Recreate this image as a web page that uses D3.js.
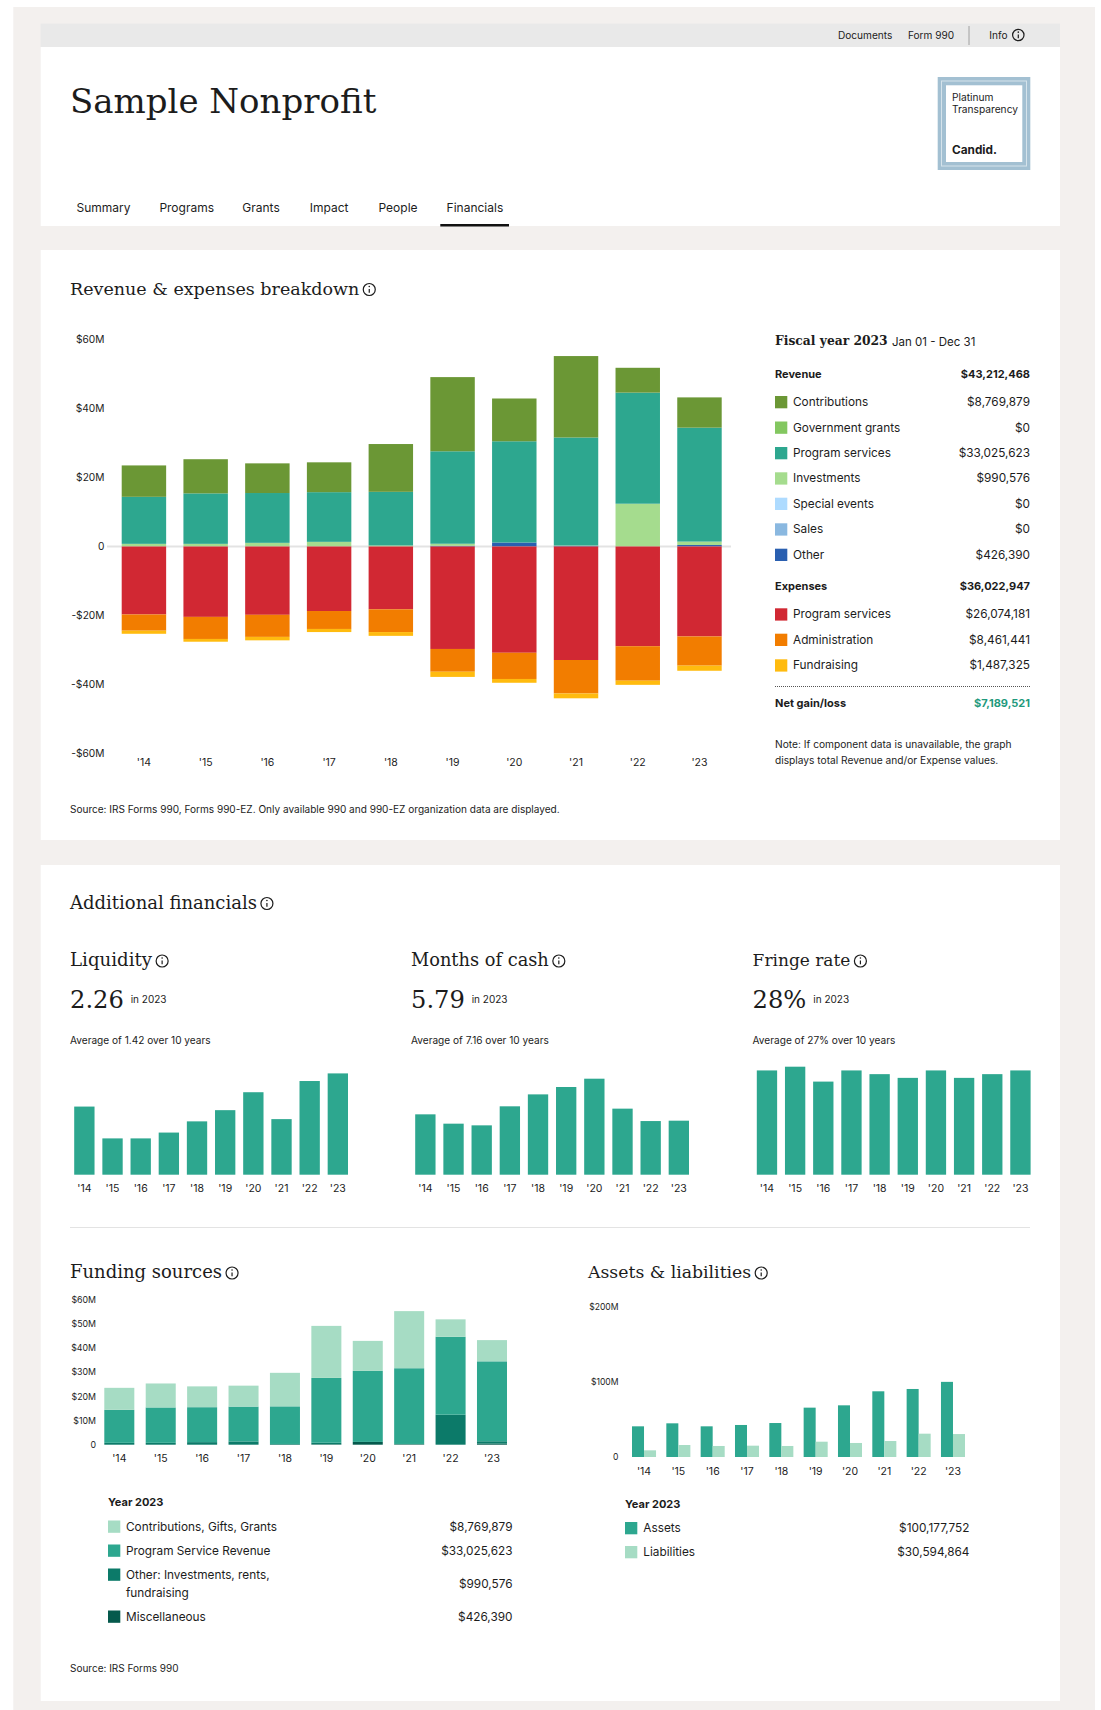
<!DOCTYPE html>
<html>
<head>
<meta charset="utf-8">
<title>Sample Nonprofit</title>
<script src="https://cdn.jsdelivr.net/npm/d3@7"></script>
<style>
  html, body { margin: 0; padding: 0; background: #fff; }
  svg { display: block; }
</style>
</head>
<body>
<div id="page"></div>
<script>
const years = ["'14", "'15", "'16", "'17", "'18", "'19", "'20", "'21", "'22", "'23"];

// revenue components, $M
const contributions = [9.1, 9.9, 8.6, 8.65, 13.85, 21.5, 12.4, 23.6, 7.2, 8.77];
const programRevenue = [13.63, 14.63, 14.44, 14.4, 15.55, 26.8, 29.35, 31.3, 32.2, 33.03];
const investments = [0.77, 0.77, 1.06, 1.35, 0.3, 0.6, 0, 0.1, 12.4, 0.99];
const otherRevenue = [0, 0, 0, 0, 0, 0.2, 1.15, 0.2, 0, 0.43];

// expense components, $M
const programExpense = [19.7, 20.4, 19.8, 18.7, 18.2, 29.7, 30.8, 32.9, 28.9, 26.07];
const adminExpense = [4.7, 6.4, 6.4, 5.2, 6.6, 6.6, 7.6, 9.7, 10, 8.46];
const fundraising = [0.9, 0.8, 1, 0.9, 1.1, 1.5, 1.1, 1.4, 1.2, 1.49];

const liquidity = [1.52, 0.81, 0.81, 0.94, 1.19, 1.44, 1.84, 1.24, 2.09, 2.26];
const monthsOfCash = [6.47, 5.47, 5.29, 7.33, 8.61, 9.4, 10.29, 7.08, 5.75, 5.79];
const fringeRate = [28, 29, 25, 28, 27, 26, 28, 26, 27, 28];

const assets = [40.9, 44.9, 40.9, 42.7, 45.3, 65.8, 68.9, 87.6, 90.7, 100.18];
const liabilities = [8.9, 16, 14.7, 15.1, 14.7, 20.4, 18.7, 21.3, 31.1, 30.59];

const tabs = ['Summary', 'Programs', 'Grants', 'Impact', 'People', 'Financials'];
const revenueLegend = [
    ['Contributions', '$8,769,879', '#6b9735'],
    ['Government grants', '$0', '#83c760'],
    ['Program services', '$33,025,623', '#2da78f'],
    ['Investments', '$990,576', '#a5dc8e'],
    ['Special events', '$0', '#aedbff'],
    ['Sales', '$0', '#8ab8e0'],
    ['Other', '$426,390', '#2a5fb0']
];
const expenseLegend = [
    ['Program services', '$26,074,181', '#d12833'],
    ['Administration', '$8,461,441', '#f27d00'],
    ['Fundraising', '$1,487,325', '#ffbb0f']
];

const SANS = 'Inter, Roboto, sans-serif';
const SERIF = '"DejaVu Serif", serif';
const INK = '#1c1c1c';
const TEAL = '#2da78f';
const TEAL_LIGHT = '#a6dcc4';
const TEAL_DARK = '#0c7a69';
const TEAL_DARKEST = '#05594c';

const svg = d3.select('#page').append('svg')
    .attr('width', 1101)
    .attr('height', 1710);

function rect(x, y, w, h, fill) {
    return svg.append('rect')
        .attr('x', x).attr('y', y)
        .attr('width', w).attr('height', h)
        .attr('fill', fill);
}

function label(x, y, str, opts = {}) {
    return svg.append('text')
        .attr('x', x).attr('y', y)
        .attr('dy', '.35em')
        .attr('text-anchor', opts.anchor || 'start')
        .attr('font-family', opts.family || SANS)
        .attr('font-size', opts.size || 11.8)
        .attr('font-weight', opts.weight || 400)
        .attr('fill', opts.fill || INK)
        .text(str);
}

function infoIcon(cx, cy, r) {
    svg.append('circle').attr('cx', cx).attr('cy', cy).attr('r', r)
        .attr('fill', 'none').attr('stroke', INK).attr('stroke-width', 1.2);
    svg.append('line').attr('x1', cx).attr('x2', cx)
        .attr('y1', cy - 0.5).attr('y2', cy + r * 0.55)
        .attr('stroke', INK).attr('stroke-width', 1.2);
    svg.append('circle').attr('cx', cx).attr('cy', cy - r * 0.5).attr('r', 0.8).attr('fill', INK);
}

function heading(x, y, str, size) {
    const t = label(x, y, str, { family: SERIF, size });
    const w = t.node().getComputedTextLength();
    infoIcon(x + w + 10, y + 1, 6);
}

function drawFrame() {
    rect(13.3, 7, 1081.7, 1703, '#f3f0ee');
    rect(40.7, 23.7, 1019.3, 23.3, '#e9e9e9');
    rect(40.7, 47, 1019.3, 179, '#fff');
    rect(40.7, 250, 1019.3, 590, '#fff');
    rect(40.7, 865, 1019.3, 836, '#fff');
}

function drawHeader() {
    label(838, 35.5, 'Documents', { size: 10.1 });
    label(908, 35.5, 'Form 990', { size: 10.1 });
    svg.append('line').attr('x1', 969).attr('x2', 969).attr('y1', 26).attr('y2', 45)
        .attr('stroke', '#a0a0a0');
    label(989.3, 35.5, 'Info', { size: 10.1 });
    infoIcon(1018.3, 35, 5.7);

    label(70, 101, 'Sample Nonprofit', { family: SERIF, size: 34 });

    rect(937.7, 77, 92.6, 93, '#a3c0d2');
    rect(941, 80.5, 86, 86, '#d5e3eb');
    rect(942, 81.5, 84, 84, '#a3c0d2');
    rect(946, 85.3, 76.3, 76.7, '#fff');
    label(952, 97.5, 'Platinum', { size: 10.2 });
    label(952, 109.5, 'Transparency', { size: 10.2 });
    label(952, 150, 'Candid.', { size: 11.8, weight: 700 });

    const tabX = [76.5, 159.4, 242.3, 309.7, 378.5, 446.6];
    tabs.forEach((tab, i) => label(tabX[i], 207.5, tab, { size: 12 }));
    rect(440.3, 224, 68.7, 2.5, '#111');
}

function moneyTick(d) {
    if (d === 0) return '0';
    return `${d < 0 ? '-' : ''}$${Math.abs(d)}M`;
}

function styleAxis(g, size) {
    g.select('.domain').remove();
    g.selectAll('.tick line').remove();
    g.selectAll('text')
        .attr('font-family', SANS)
        .attr('font-size', size)
        .attr('fill', INK);
}

function yearAxis(x, y, offset, size) {
    const g = svg.append('g')
        .attr('transform', `translate(0,${y})`)
        .call(d3.axisBottom(x).tickSize(0));
    styleAxis(g, size);
    g.selectAll('text').attr('y', offset).attr('dy', '.35em');
}

function moneyAxis(scale, xPos, ticks, size) {
    const g = svg.append('g')
        .attr('transform', `translate(${xPos},0)`)
        .call(d3.axisLeft(scale).tickValues(ticks).tickSize(0).tickPadding(0).tickFormat(moneyTick));
    styleAxis(g, size);
}

// stacks the given series away from the baseline and draws one rect per segment
function stackedBars(x, y, series) {
    series.forEach(s => {
        svg.append('g').selectAll('rect')
            .data(years)
            .join('rect')
            .attr('x', d => x(d))
            .attr('width', x.bandwidth())
            .attr('y', (d, i) => Math.min(y(s.base[i]), y(s.base[i] + s.values[i])))
            .attr('height', (d, i) => Math.abs(y(s.base[i]) - y(s.base[i] + s.values[i])))
            .attr('fill', s.color);
    });
}

function withBases(list, sign = 1) {
    const running = years.map(() => 0);
    return list.map(([values, color]) => {
        const base = running.slice();
        values.forEach((v, i) => { running[i] += sign * v; });
        return { values: values.map(v => sign * v), base, color };
    });
}

function drawBreakdown() {
    heading(70, 288.5, 'Revenue & expenses breakdown', 17.5);

    const x = d3.scaleBand().domain(years).range([121.7, 721.7]).paddingInner(0.28);
    const y = d3.scaleLinear().domain([-60, 60]).range([753.5, 339.5]);

    svg.append('line').attr('x1', 107).attr('x2', 731).attr('y1', y(0)).attr('y2', y(0))
        .attr('stroke', '#e3e3e3').attr('stroke-width', 2);

    stackedBars(x, y, withBases([
        [otherRevenue, '#2a5fb0'],
        [investments, '#a5dc8e'],
        [programRevenue, '#2da78f'],
        [contributions, '#6b9735']
    ]));
    stackedBars(x, y, withBases([
        [programExpense, '#d12833'],
        [adminExpense, '#f27d00'],
        [fundraising, '#ffbb0f']
    ], -1));

    moneyAxis(y, 104.5, [-60, -40, -20, 0, 20, 40, 60], 10.2);
    yearAxis(x, 753.5, 8.5, 10.5);

    label(70, 809, 'Source: IRS Forms 990, Forms 990-EZ. Only available 990 and 990-EZ organization data are displayed.', { size: 10.05 });
}

function legendRow(x, y, xText, xValue, [name, value, color], size = 11.8) {
    rect(x, y - 6, 12.3, 12.3, color);
    label(xText, y, name, { size });
    label(xValue, y, value, { size, anchor: 'end' });
}

function drawFiscalPanel() {
    label(775, 341, 'Fiscal year 2023', { family: SERIF, size: 12.3, weight: 700 });
    label(892, 342, 'Jan 01 - Dec 31', { size: 11.5 });

    label(775, 374, 'Revenue', { weight: 700, size: 11 });
    label(1030, 374, '$43,212,468', { weight: 700, size: 11, anchor: 'end' });
    const revenueY = [402, 427.5, 453, 478.3, 503.7, 529.3, 554.7];
    revenueLegend.forEach((row, i) => legendRow(775, revenueY[i], 793, 1030, row));

    label(775, 586.5, 'Expenses', { weight: 700, size: 11 });
    label(1030, 586.5, '$36,022,947', { weight: 700, size: 11, anchor: 'end' });
    const expenseY = [614.3, 639.7, 665.3];
    expenseLegend.forEach((row, i) => legendRow(775, expenseY[i], 793, 1030, row));

    svg.append('line').attr('x1', 775).attr('x2', 1030).attr('y1', 686.5).attr('y2', 686.5)
        .attr('stroke', '#555').attr('stroke-dasharray', '1 1');

    label(775, 703.5, 'Net gain/loss', { weight: 700, size: 11 });
    label(1030, 703.5, '$7,189,521', { weight: 700, size: 11, anchor: 'end', fill: '#1f9a7d' });

    label(775, 744.5, 'Note: If component data is unavailable, the graph', { size: 10.2 });
    label(775, 760, 'displays total Revenue and/or Expense values.', { size: 10.2 });
}

function smallChart(left, title, titleSize, big, average, values, barHeight) {
    const textX = left - 4.2;
    heading(textX, 960, title, titleSize);
    label(textX, 1000, big, { family: SERIF, size: 24.2 });
    label(textX + 60.7, 999, 'in 2023', { size: 10 });
    label(textX, 1040, average, { size: 10.1 });

    const x = d3.scaleBand().domain(years).range([left, left + 273.8]).paddingInner(0.278);
    const y = d3.scaleLinear().domain([0, d3.max(values)]).range([1174.7, 1174.7 - barHeight]);
    svg.append('g').selectAll('rect')
        .data(values)
        .join('rect')
        .attr('x', (d, i) => x(years[i]))
        .attr('width', x.bandwidth())
        .attr('y', d => y(d))
        .attr('height', d => y(0) - y(d))
        .attr('fill', TEAL);
    yearAxis(x, 1174.7, 14, 10.5);
}

function drawAdditional() {
    heading(70, 902.5, 'Additional financials', 18);
    smallChart(74.2, 'Liquidity', 18.2, '2.26', 'Average of 1.42 over 10 years', liquidity, 101.3);
    smallChart(415.2, 'Months of cash', 17.8, '5.79', 'Average of 7.16 over 10 years', monthsOfCash, 96);
    smallChart(756.8, 'Fringe rate', 17, '28%', 'Average of 27% over 10 years', fringeRate, 108);
    svg.append('line').attr('x1', 70).attr('x2', 1030).attr('y1', 1227.5).attr('y2', 1227.5)
        .attr('stroke', '#e3e3e3');
}

function drawFunding() {
    heading(70, 1272, 'Funding sources', 18);

    const x = d3.scaleBand().domain(years).range([104.3, 507]).paddingInner(0.275);
    const y = d3.scaleLinear().domain([0, 60]).range([1444.7, 1299.5]);
    stackedBars(x, y, withBases([
        [otherRevenue, TEAL_DARKEST],
        [investments, TEAL_DARK],
        [programRevenue, TEAL],
        [contributions, TEAL_LIGHT]
    ]));
    moneyAxis(y, 96, [0, 10, 20, 30, 40, 50, 60], 8.8);
    yearAxis(x, 1444.7, 13.5, 10.5);

    label(108, 1502.5, 'Year 2023', { weight: 700, size: 11 });
    legendRow(108, 1526.5, 126, 512.5, ['Contributions, Gifts, Grants', '$8,769,879', TEAL_LIGHT]);
    legendRow(108, 1550.5, 126, 512.5, ['Program Service Revenue', '$33,025,623', TEAL]);
    legendRow(108, 1574.5, 126, 512.5, ['Other: Investments, rents,', '', TEAL_DARK]);
    label(126, 1592.5, 'fundraising');
    label(512.5, 1583.5, '$990,576', { anchor: 'end' });
    legendRow(108, 1616.5, 126, 512.5, ['Miscellaneous', '$426,390', TEAL_DARKEST]);

    label(70, 1668.5, 'Source: IRS Forms 990', { size: 10 });
}

function drawAssets() {
    heading(588, 1272, 'Assets & liabilities', 17.3);

    const x = d3.scaleBand().domain(years).range([632, 965]).paddingInner(0.3);
    const inner = d3.scaleBand().domain(['assets', 'liabilities']).range([0, x.bandwidth()]);
    const y = d3.scaleLinear().domain([0, 200]).range([1457, 1307]);

    [['assets', assets, TEAL], ['liabilities', liabilities, TEAL_LIGHT]].forEach(([key, values, color]) => {
        svg.append('g').selectAll('rect')
            .data(values)
            .join('rect')
            .attr('x', (d, i) => x(years[i]) + inner(key))
            .attr('width', inner.bandwidth())
            .attr('y', d => y(d))
            .attr('height', d => y(0) - y(d))
            .attr('fill', color);
    });

    moneyAxis(y, 618.5, [0, 100, 200], 8.6);
    // year labels sit under the assets/liabilities seam
    yearAxis(x, 1457, 14, 10.5);

    label(625, 1504, 'Year 2023', { weight: 700, size: 11 });
    legendRow(625, 1528, 643.3, 969.5, ['Assets', '$100,177,752', TEAL]);
    legendRow(625, 1552, 643.3, 969.5, ['Liabilities', '$30,594,864', TEAL_LIGHT]);
}

drawFrame();
drawHeader();
drawBreakdown();
drawFiscalPanel();
drawAdditional();
drawFunding();
drawAssets();
</script>
</body>
</html>
